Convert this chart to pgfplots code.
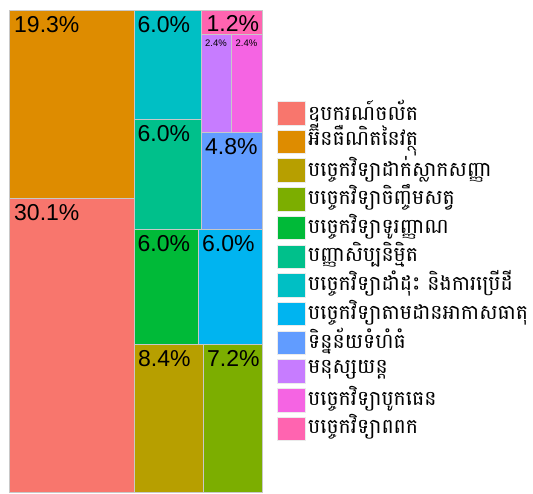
\documentclass[border=0pt]{standalone}
\usepackage{fontspec}
\setmainfont{Liberation Sans}
\newfontfamily\khmer[Script=Khmer]{Battambang}
\usepackage{pgfplots}
\pgfplotsset{compat=1.18}
\definecolor{c1}{HTML}{F8766D}
\definecolor{c2}{HTML}{DE8C00}
\definecolor{c3}{HTML}{B79F00}
\definecolor{c4}{HTML}{7CAE00}
\definecolor{c5}{HTML}{00BA38}
\definecolor{c6}{HTML}{00C08B}
\definecolor{c7}{HTML}{00BFC4}
\definecolor{c8}{HTML}{00B4F0}
\definecolor{c9}{HTML}{619CFF}
\definecolor{c10}{HTML}{C77CFF}
\definecolor{c11}{HTML}{F564E3}
\definecolor{c12}{HTML}{FF64B0}
\definecolor{bord}{HTML}{C8C8C8}
\definecolor{kbord}{HTML}{EBEBEB}
\begin{document}
\begin{tikzpicture}[x=1pt,y=1pt]
\begin{axis}[
  at={(0,0)}, anchor=south west,
  width=533pt, height=493pt, scale only axis,
  xmin=0, xmax=533, ymin=0, ymax=493, y dir=reverse,
  hide axis, clip=false, no markers,
  every axis plot/.append style={line width=1pt, line join=miter},
]
% treemap tiles, rectangles in pixel coordinates
\addplot[fill=c1, draw=bord] coordinates {(9,198) (134,198) (134,492) (9,492) (9,198)};
\addplot[fill=c2, draw=bord] coordinates {(9,10) (134,10) (134,198) (9,198) (9,10)};
\addplot[fill=c3, draw=bord] coordinates {(134,344) (203,344) (203,492) (134,492) (134,344)};
\addplot[fill=c4, draw=bord] coordinates {(203,344) (262,344) (262,492) (203,492) (203,344)};
\addplot[fill=c5, draw=bord] coordinates {(134,229) (198,229) (198,344) (134,344) (134,229)};
\addplot[fill=c6, draw=bord] coordinates {(134,119) (201,119) (201,229) (134,229) (134,119)};
\addplot[fill=c7, draw=bord] coordinates {(134,10) (201,10) (201,119) (134,119) (134,10)};
\addplot[fill=c8, draw=bord] coordinates {(198,229) (262,229) (262,344) (198,344) (198,229)};
\addplot[fill=c9, draw=bord] coordinates {(201,132) (262,132) (262,229) (201,229) (201,132)};
\addplot[fill=c10, draw=bord] coordinates {(201,34) (231,34) (231,132) (201,132) (201,34)};
\addplot[fill=c11, draw=bord] coordinates {(231,34) (262,34) (262,132) (231,132) (231,34)};
\addplot[fill=c12, draw=bord] coordinates {(201,10) (262,10) (262,34) (201,34) (201,10)};
% legend keys
\addplot[fill=c1, draw=kbord] coordinates {(277,101.5) (305,101.5) (305,125) (277,125) (277,101.5)};
\addplot[fill=c2, draw=kbord] coordinates {(277,130.2) (305,130.2) (305,153.7) (277,153.7) (277,130.2)};
\addplot[fill=c3, draw=kbord] coordinates {(277,158.9) (305,158.9) (305,182.4) (277,182.4) (277,158.9)};
\addplot[fill=c4, draw=kbord] coordinates {(277,187.6) (305,187.6) (305,211.1) (277,211.1) (277,187.6)};
\addplot[fill=c5, draw=kbord] coordinates {(277,216.3) (305,216.3) (305,239.8) (277,239.8) (277,216.3)};
\addplot[fill=c6, draw=kbord] coordinates {(277,245.0) (305,245.0) (305,268.5) (277,268.5) (277,245.0)};
\addplot[fill=c7, draw=kbord] coordinates {(277,273.7) (305,273.7) (305,297.2) (277,297.2) (277,273.7)};
\addplot[fill=c8, draw=kbord] coordinates {(277,302.4) (305,302.4) (305,325.9) (277,325.9) (277,302.4)};
\addplot[fill=c9, draw=kbord] coordinates {(277,331.1) (305,331.1) (305,354.6) (277,354.6) (277,331.1)};
\addplot[fill=c10, draw=kbord] coordinates {(277,359.8) (305,359.8) (305,383.3) (277,383.3) (277,359.8)};
\addplot[fill=c11, draw=kbord] coordinates {(277,388.5) (305,388.5) (305,412.0) (277,412.0) (277,388.5)};
\addplot[fill=c12, draw=kbord] coordinates {(277,417.2) (305,417.2) (305,440.7) (277,440.7) (277,417.2)};
% tile labels
\begin{scope}[every node/.style={anchor=north west, inner sep=0pt, font=\fontsize{23}{23}\selectfont}]
\node at (axis cs:14,16.5) {19.3\%};
\node at (axis cs:14,204) {30.1\%};
\node at (axis cs:137.5,16.5) {6.0\%};
\node at (axis cs:137.5,125) {6.0\%};
\node at (axis cs:137.5,235) {6.0\%};
\node at (axis cs:202,235) {6.0\%};
\node at (axis cs:138,350) {8.4\%};
\node at (axis cs:207,350) {7.2\%};
\node at (axis cs:205,138) {4.8\%};
\node at (axis cs:206.5,15) {1.2\%};
\end{scope}
\begin{scope}[every node/.style={anchor=north west, inner sep=0pt, font=\fontsize{9.5}{9.5}\selectfont}]
\node at (axis cs:205,40) {2.4\%};
\node at (axis cs:235.5,40) {2.4\%};
\end{scope}
% legend labels
\begin{scope}[every node/.style={anchor=west, inner sep=0pt, font=\khmer\fontsize{20.5}{20.5}\selectfont}]
\node at (axis cs:308,111.5) {ឧបករណ៍ចល័ត};
\node at (axis cs:308,140.2) {អ៊ីនធឺណិតនៃវត្ថុ};
\node at (axis cs:308,168.9) {បច្ចេកវិទ្យាដាក់ស្លាកសញ្ញា};
\node at (axis cs:308,197.6) {បច្ចេកវិទ្យាចិញ្ចឹមសត្វ};
\node at (axis cs:308,226.3) {បច្ចេកវិទ្យាទូរញ្ញាណ};
\node at (axis cs:308,255.0) {បញ្ញាសិប្បនិម្មិត};
\node at (axis cs:308,283.7) {បច្ចេកវិទ្យាដាំដុះ និងការប្រើដី};
\node at (axis cs:308,312.4) {បច្ចេកវិទ្យាតាមដានអាកាសធាតុ};
\node at (axis cs:308,341.1) {ទិន្នន័យទំហំធំ};
\node at (axis cs:308,369.8) {មនុស្សយន្ត};
\node at (axis cs:308,398.5) {បច្ចេកវិទ្យាបូកធេន};
\node at (axis cs:308,427.2) {បច្ចេកវិទ្យាពពក};
\end{scope}
\end{axis}
\pgfresetboundingbox
\path[use as bounding box] (0,0) rectangle (533,493);
\end{tikzpicture}
\end{document}
